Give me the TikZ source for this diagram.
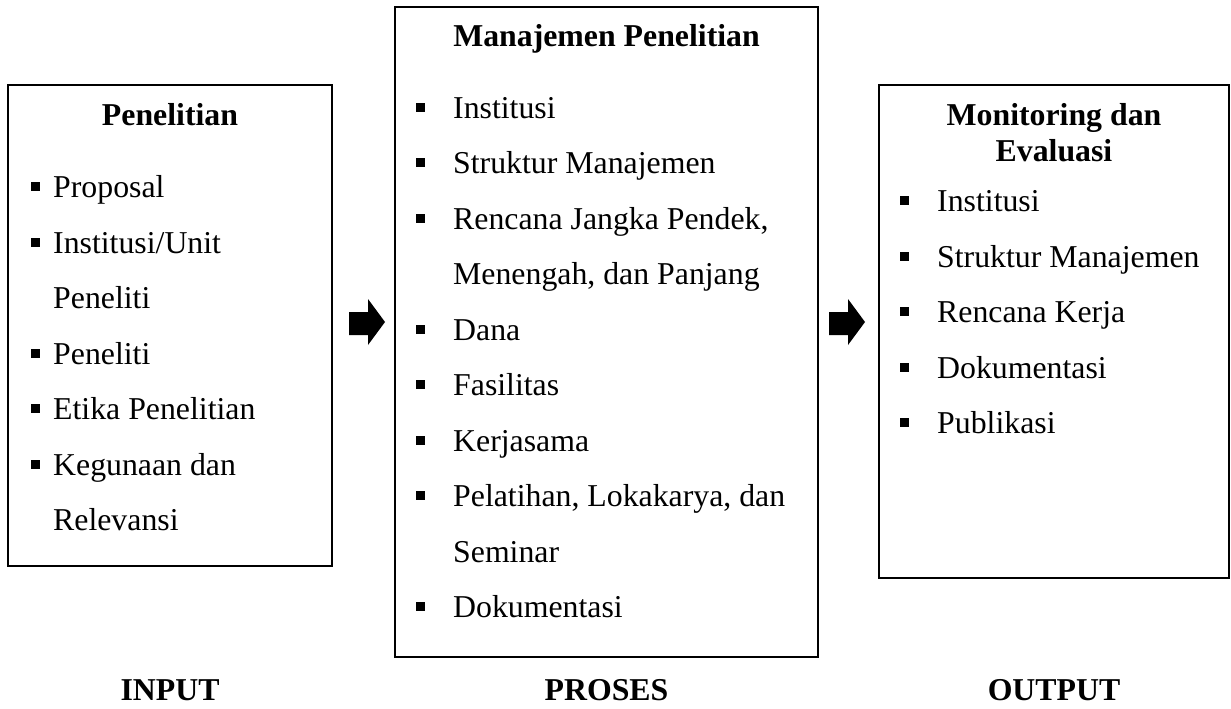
\documentclass[tikz,border=0pt]{standalone}
\usepackage{fontspec}
\setmainfont{Liberation Serif}
\begin{document}
\begin{tikzpicture}[x=1pt,y=-1pt,
  box/.style={draw,line width=1.5pt,inner sep=0,rectangle},
  item/.style={anchor=base west,inner sep=0,font=\fontsize{31.8}{36}\selectfont},
  ttl/.style={anchor=base,inner sep=0,font=\fontsize{31.8}{36}\selectfont\bfseries},
  bul/.style={fill=black}]
\useasboundingbox (0,0) rectangle (1231,709);
% boxes
\node[box,minimum width=324pt,minimum height=481pt] (boxA) at (170,325.5) {};
\node[box,minimum width=423pt,minimum height=650pt] (boxB) at (606.5,332) {};
\node[box,minimum width=350pt,minimum height=493pt] (boxC) at (1054,331.5) {};
% titles
\node[ttl] (tA) at (170,125) {Penelitian};
\node[ttl] (tB) at (606.5,47) {Manajemen Penelitian};
\node[ttl] (tC1) at (1054,125) {Monitoring dan};
\node[ttl] (tC2) at (1054,161) {Evaluasi};
% box A items
\foreach \y/\t/\b [count=\i] in {197/Proposal/1,253/Institusi\slash Unit/1,308/Peneliti/0,364/Peneliti/1,419/Etika Penelitian/1,475/Kegunaan dan/1,530/Relevansi/0}{
  \node[item] (a\i) at (53,\y) {\t};
  \ifnum\b=1 \fill[bul] (31,\y-15) rectangle (40,\y-6); \fi
}
% box B items
\foreach \y/\t/\b [count=\i] in {118/Institusi/1,173/Struktur Manajemen/1,229/{Rencana Jangka Pendek,}/1,284/{Menengah, dan Panjang}/0,340/Dana/1,395/Fasilitas/1,451/Kerjasama/1,506/{Pelatihan, Lokakarya, dan}/1,562/Seminar/0,617/Dokumentasi/1}{
  \node[item] (b\i) at (453,\y) {\t};
  \ifnum\b=1 \fill[bul] (416,\y-15) rectangle (425,\y-6); \fi
}
% box C items
\foreach \y/\t [count=\i] in {211/Institusi,267/Struktur Manajemen,322/Rencana Kerja,378/Dokumentasi,433/Publikasi}{
  \node[item] (c\i) at (937,\y) {\t};
  \fill[bul] (900,\y-15) rectangle (909,\y-6);
}
% arrows
\fill (349,312) -- (368,312) -- (368,299) -- (385,322) -- (368,345) -- (368,335) -- (349,335) -- cycle;
\fill (829,312) -- (848,312) -- (848,299) -- (865,322) -- (848,345) -- (848,335) -- (829,335) -- cycle;
% bottom labels
\node[ttl] (lA) at (170,700) {INPUT};
\node[ttl] (lB) at (606.5,700) {PROSES};
\node[ttl] (lC) at (1054,700) {OUTPUT};
\end{tikzpicture}
\end{document}
